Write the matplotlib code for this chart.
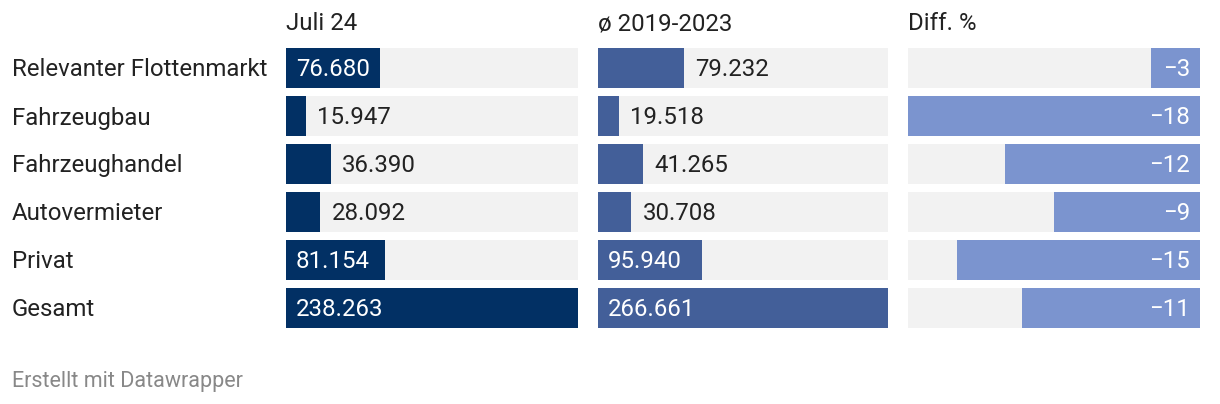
import matplotlib
matplotlib.use("Agg")
import matplotlib.pyplot as plt

plt.rcParams['font.family'] = ['Roboto', 'DejaVu Sans']

categories = ["Relevanter Flottenmarkt", "Fahrzeugbau", "Fahrzeughandel",
              "Autovermieter", "Privat", "Gesamt"]
juli24 = [76680, 15947, 36390, 28092, 81154, 238263]
avg_2019_2023 = [79232, 19518, 41265, 30708, 95940, 266661]
diff_pct = [-3, -18, -12, -9, -15, -11]
headers = ["Juli 24", "ø 2019-2023", "Diff. %"]

W, H = 1220, 404
BG = "#f2f2f2"
colors = ["#023064", "#435f99", "#7b94cf"]
TEXT = "#222222"
FS = 17.3

fig = plt.figure(figsize=(W / 100, H / 100), dpi=100)


def px_axes(x0, x1, y0, y1):
    return fig.add_axes([x0 / W, 1 - y1 / H, (x1 - x0) / W, (y1 - y0) / H])


def fmt(v):
    return f"{v:,}".replace(",", ".")


n = len(categories)
h = 40 / 48
rows = list(range(n))
top, bottom = 48, 48 + 48 * n - 8
cols = [(286, 578), (598, 888), (908, 1200)]

for i, (x0, x1) in enumerate(cols):
    ax = px_axes(x0, x1, top, bottom)
    ax.set_ylim(n - 1 + h / 2, -h / 2)
    ax.axis("off")
    if i < 2:
        data = juli24 if i == 0 else avg_2019_2023
        vmax = max(data)
        ax.set_xlim(0, vmax)
        ax.barh(rows, [vmax] * n, height=h, color=BG)
        ax.barh(rows, data, height=h, color=colors[i])
        for r, v in zip(rows, data):
            if v / vmax > 0.31:
                ax.annotate(fmt(v), (0, r), xytext=(10, -2), textcoords="offset pixels",
                            va="center", ha="left", color="white", fontsize=FS)
            else:
                ax.annotate(fmt(v), (v, r), xytext=(11, -2), textcoords="offset pixels",
                            va="center", ha="left", color=TEXT, fontsize=FS)
    else:
        vmin = min(diff_pct)
        ax.set_xlim(vmin, 0)
        ax.barh(rows, [vmin] * n, height=h, color=BG)
        ax.barh(rows, diff_pct, height=h, color=colors[i])
        for r, v in zip(rows, diff_pct):
            ax.annotate(f"\u2212{abs(v)}", (0, r), xytext=(-10, -2), textcoords="offset pixels",
                        va="center", ha="right", color="white", fontsize=FS)
    fig.text(x0 / W, 1 - 24 / H, headers[i], ha="left", va="center",
             color=TEXT, fontsize=FS)

for r, c in enumerate(categories):
    fig.text(12 / W, 1 - (70 + 48 * r) / H, c, ha="left", va="center",
             color=TEXT, fontsize=FS)

fig.text(12 / W, 1 - 382 / H, "Erstellt mit Datawrapper", ha="left", va="center",
         color="#888888", fontsize=15.5)

fig.savefig("out.png", dpi=100, facecolor="white")
